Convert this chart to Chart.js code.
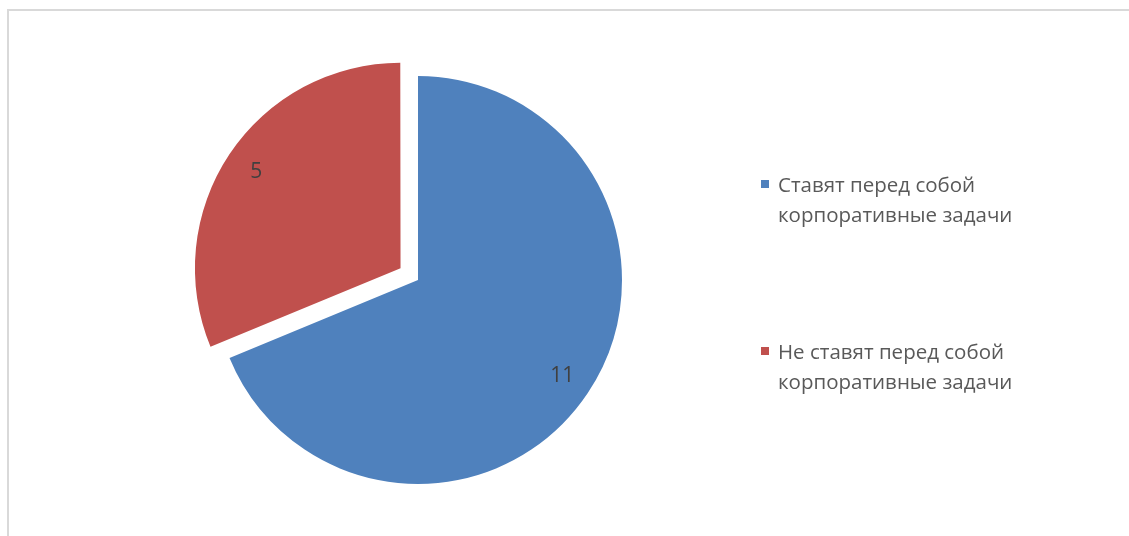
<!DOCTYPE html>
<html lang="ru">
<head>
    <meta charset="UTF-8">
    <title>Корпоративные задачи</title>
    <script src="https://cdn.jsdelivr.net/npm/chart.js"></script>
    <style>
        body { margin: 0; background: #fff; }
        #wrap { position: relative; width: 1129px; height: 536px; overflow: hidden; }
        #frame { position: absolute; left: 7px; top: 9px; right: 0; bottom: -5px;
                 border-top: 2px solid #d9d9d9; border-left: 2px solid #d9d9d9; }
        #pie { position: absolute; left: 0; top: 0; }
        .item { position: absolute; left: 761px; width: 300px; font-family: "Open Sans", sans-serif;
                font-size: 20.5px; line-height: 30px; color: #595959; }
        .item span.box { position: absolute; left: 0; top: 11px; width: 8px; height: 8px; }
        .item div { margin-left: 17px; width: 270px; }
    </style>
</head>
<body>
<div id="wrap">
    <div id="frame"></div>
    <canvas id="pie" width="1129" height="536"></canvas>
    <div id="legend"></div>
</div>
<script>
    var labels = ['Ставят перед собой корпоративные задачи', 'Не ставят перед собой корпоративные задачи'];
    var values = [11, 5];
    var colors = ['#4f81bd', '#c0504d'];
    var explode = [0, 21];   // px the slice is pulled out
    var legendTops = [169, 336];

    // value labels drawn inside each slice
    var sliceLabels = {
        id: 'sliceLabels',
        afterDatasetsDraw: function(chart) {
            var ctx = chart.ctx;
            var meta = chart.getDatasetMeta(0);
            ctx.save();
            ctx.font = '21px "Open Sans", sans-serif';
            ctx.fillStyle = '#404040';
            ctx.textAlign = 'center';
            ctx.textBaseline = 'middle';
            meta.data.forEach(function(arc, i) {
                var p = arc.getProps(['x', 'y', 'startAngle', 'endAngle', 'outerRadius']);
                var mid = (p.startAngle + p.endAngle) / 2;
                var d = explode[i] + p.outerRadius * 0.85;
                ctx.fillText(String(values[i]), p.x + Math.cos(mid) * d, p.y + Math.sin(mid) * d);
            });
            ctx.restore();
        }
    };

    var ctx = document.getElementById('pie').getContext('2d');
    var chart = new Chart(ctx, {
        type: 'pie',
        data: {
            labels: labels,
            datasets: [{
                data: values,
                backgroundColor: colors,
                borderWidth: 0,
                // chart.js moves an arc by offset / 4
                offset: explode.map(function(e) { return e * 4; }),
                hoverOffset: 0
            }]
        },
        options: {
            responsive: false,
            animation: false,
            events: [],
            radius: 204,
            layout: { padding: { left: 168, right: 461, top: 65.5, bottom: 41.5 } },
            plugins: {
                legend: { display: false },
                tooltip: { enabled: false }
            }
        },
        plugins: [sliceLabels]
    });

    var legend = document.getElementById('legend');
    labels.forEach(function(text, i) {
        var item = document.createElement('div');
        item.className = 'item';
        item.style.top = legendTops[i] + 'px';
        var box = document.createElement('span');
        box.className = 'box';
        box.style.background = colors[i];
        var t = document.createElement('div');
        t.textContent = text;
        item.appendChild(box);
        item.appendChild(t);
        legend.appendChild(item);
    });
</script>
</body>
</html>
